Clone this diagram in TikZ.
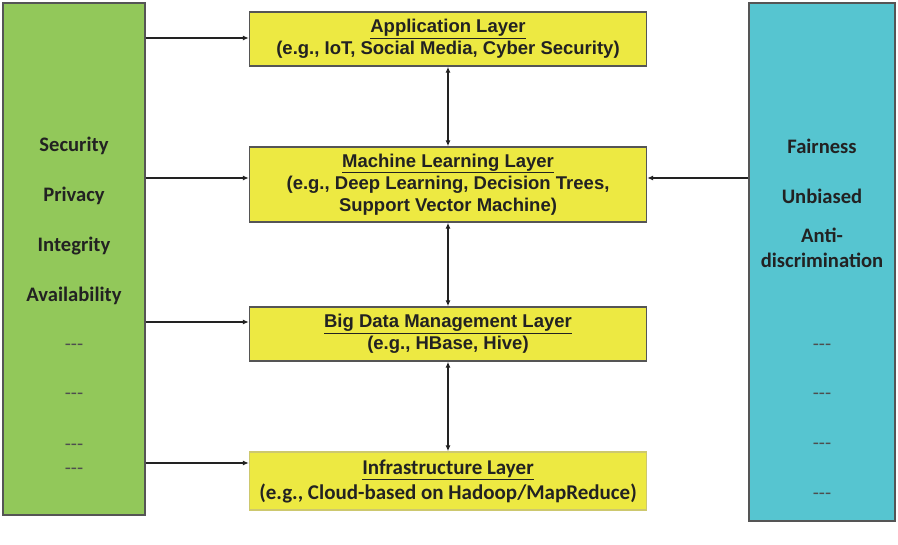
\documentclass[tikz,border=0pt]{standalone}
\usepackage{fontspec}
\setmainfont{Liberation Sans}
\newfontfamily\calibri{Carlito}
\usetikzlibrary{arrows.meta}
\definecolor{sidegreen}{RGB}{146,200,90}
\definecolor{sidecyan}{RGB}{86,197,208}
\definecolor{layeryellow}{RGB}{237,233,66}
\definecolor{inktext}{RGB}{34,34,34}
\definecolor{edgegray}{RGB}{85,85,85}
\definecolor{edgepale}{RGB}{205,200,110}
\begin{document}
\begin{tikzpicture}[x=1pt,y=-1pt,
    layer/.style={draw=edgegray,line width=1.3pt,fill=layeryellow,minimum width=397pt,
        inner sep=0pt,align=center,text=inktext,font=\bfseries\fontsize{18.5}{22}\selectfont},
    side/.style={draw=edgegray,line width=1.3pt,inner sep=0pt},
    item/.style={text=inktext,align=center,font=\calibri\bfseries\fontsize{20.6}{25}\selectfont},
    filler/.style={text=inktext!80,font=\calibri\fontsize{20}{22}\selectfont},
    flow/.style={-{Latex[length=6pt,width=5pt]},line width=1.4pt,draw=inktext},
    both/.style={{Latex[length=6pt,width=5pt]}-{Latex[length=6pt,width=5pt]},line width=1.6pt,draw=inktext}]
    \useasboundingbox (0,0) rectangle (898,545);
    % Side panels
    \node[side,fill=sidegreen,minimum width=142pt,minimum height=512pt] (green) at (74,259) {};
    \node[side,fill=sidecyan,minimum width=146pt,minimum height=518pt] (cyan) at (822,262) {};
    % Layers
    \node[layer,minimum height=54pt] (app) at (448,39)
        {\underline{Application Layer}\\(e.g., IoT, Social Media, Cyber Security)};
    \node[layer,minimum height=75pt] (ml) at (448,184.5)
        {\underline{Machine Learning Layer}\\(e.g., Deep Learning, Decision Trees,\\Support Vector Machine)};
    \node[layer,minimum height=54pt] (bd) at (448,334)
        {\underline{Big Data Management Layer}\\(e.g., HBase, Hive)};
    \node[layer,draw=edgepale,minimum height=58pt,font=\calibri\bfseries\fontsize{21}{25}\selectfont] (infra) at (448,481)
        {\underline{Infrastructure Layer}\\(e.g., Cloud-based on Hadoop/MapReduce)};
    % Security items
    \node[item] (security) at (74,146) {Security};
    \node[item] (privacy) at (74,196) {Privacy};
    \node[item] (integrity) at (74,246) {Integrity};
    \node[item] (availability) at (74,296) {Availability};
    \node[filler] (gdots1) at (74,347) {-{}-{}-};
    \node[filler] (gdots2) at (74,396) {-{}-{}-};
    \node[filler] (gdots3) at (74,447) {-{}-{}-};
    \node[filler] (gdots4) at (74,471) {-{}-{}-};
    % Fairness items
    \node[item] (fairness) at (822,146) {Fairness};
    \node[item] (unbiased) at (822,196) {Unbiased};
    \node[item] (antidisc) at (822,247.5) {Anti-\\discrimination};
    \node[filler] (cdots1) at (822,347) {-{}-{}-};
    \node[filler] (cdots2) at (822,396) {-{}-{}-};
    \node[filler] (cdots3) at (822,446) {-{}-{}-};
    \node[filler] (cdots4) at (822,496) {-{}-{}-};
    % Arrows into the layers
    \draw[flow] (green.east |- 0,38) -- (app.west |- 0,38);
    \draw[flow] (green.east |- 0,178) -- (ml.west |- 0,178);
    \draw[flow] (green.east |- 0,322) -- (bd.west |- 0,322);
    \draw[flow] (green.east |- 0,463) -- (infra.west |- 0,463);
    \draw[flow] (cyan.west |- 0,178) -- (ml.east |- 0,178);
    % Between layers
    \draw[both] (app.south) -- (ml.north);
    \draw[both] (ml.south) -- (bd.north);
    \draw[both] (bd.south) -- (infra.north);
\end{tikzpicture}
\end{document}
